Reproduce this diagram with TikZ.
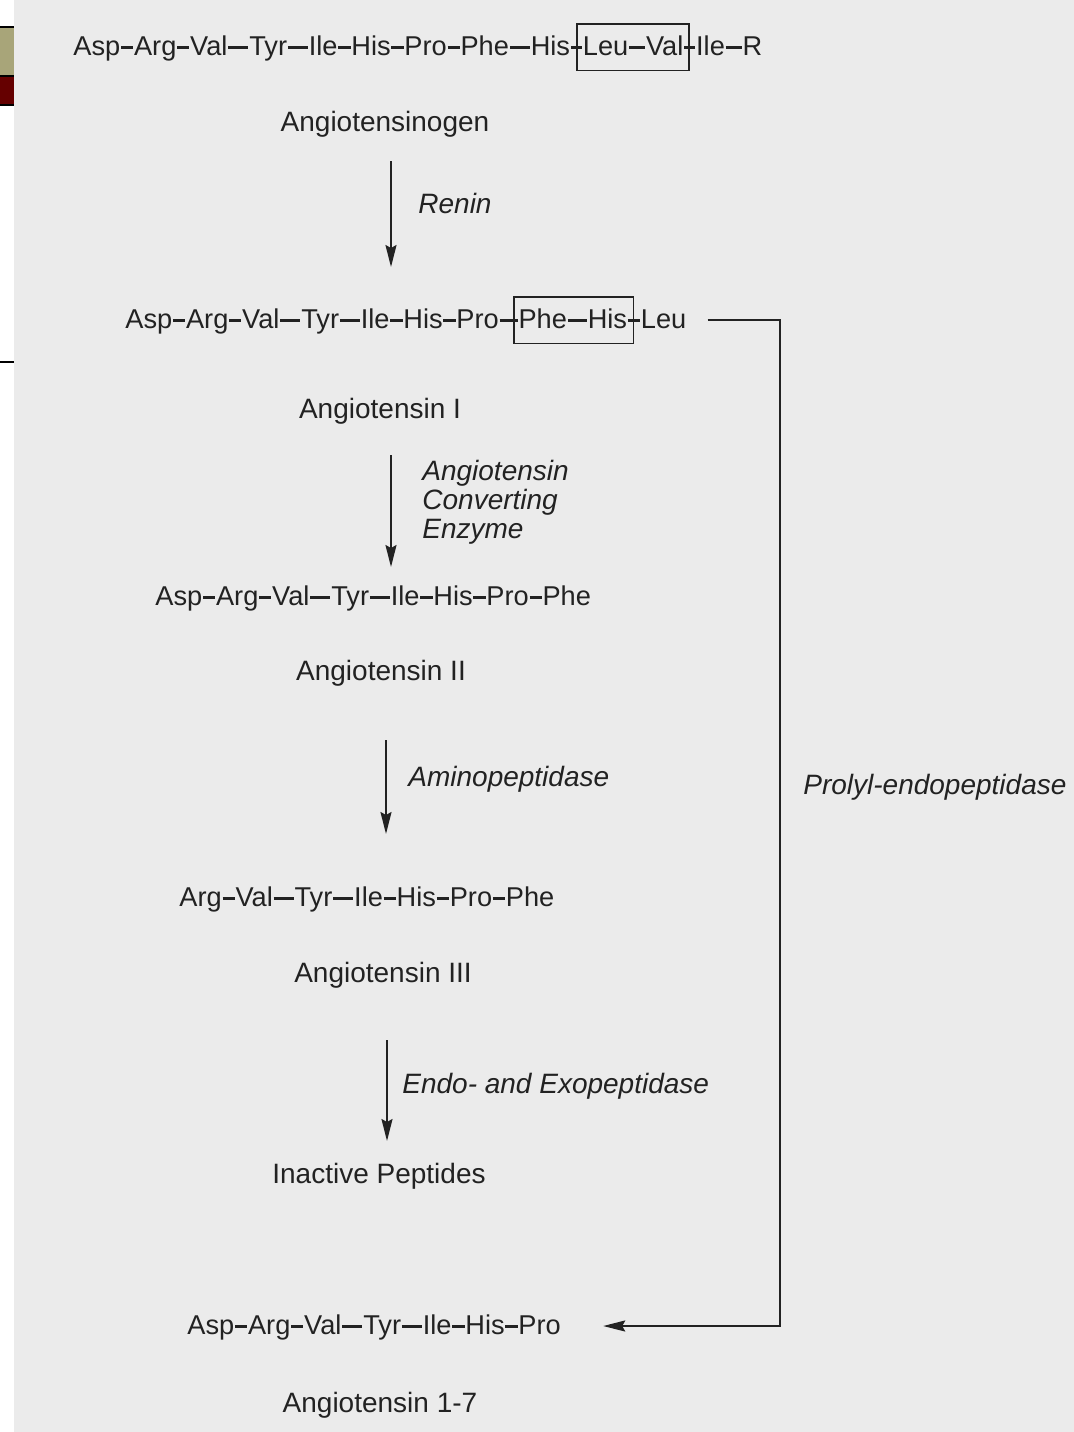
\documentclass[tikz,border=0pt]{standalone}
\usepackage{fontspec}
\setmainfont{Liberation Sans}
\usetikzlibrary{positioning,fit,arrows.meta}
\definecolor{scangray}{HTML}{EBEBEB}
\definecolor{inkgray}{HTML}{222222}
\definecolor{tabolive}{HTML}{A8A579}
\definecolor{tabred}{HTML}{650000}
\tikzset{res/.style={inner sep=0pt,text height=11pt,text depth=2.8pt,font=\fontsize{13.6}{16}\selectfont,text=inkgray}}
\tikzset{bond/.style={line width=1.5pt,draw=inkgray,shorten <=0.2pt,shorten >=0.2pt}}
\tikzset{cutbox/.style={draw=inkgray,line width=0.9pt,inner xsep=3pt,inner ysep=4.6pt}}
\tikzset{molname/.style={inner sep=0pt,font=\fontsize{14}{16}\selectfont,text=inkgray}}
\tikzset{enzyme/.style={inner sep=0pt,anchor=west,align=left,font=\fontsize{14}{14.5}\selectfont\itshape,text=inkgray}}
\tikzset{cleave/.style={line width=1pt,draw=inkgray,-{Stealth[length=11pt,width=5.5pt,inset=1.5pt]}}}

\begin{document}
\begin{tikzpicture}[x=0.5pt,y=-0.5pt]
	\useasboundingbox (0,0) rectangle (1074,1432);
	\fill[white] (0,0) rectangle (14,1432);
	\fill[scangray] (14,0) rectangle (1074,1432);
	\fill[tabolive] (0,28) rectangle (14,75);
	\fill[tabred] (0,76) rectangle (14,105);
	\foreach \y in {27,75.5,105,362}{
		\draw[line width=1pt] (0,\y) -- (14,\y);
	}

	% angiotensinogen
	\node[res,anchor=west] (p1-1) at (73,47) {Asp};
	\foreach \r/\g [count=\k from 2] in {Arg/6.5pt,Val/6.5pt,Tyr/10.5pt,Ile/10.5pt,His/6.5pt,Pro/6.5pt,Phe/6.5pt,His/10.5pt,Leu/6pt,Val/8.5pt,Ile/6pt,R/8.5pt}{
		\pgfmathtruncatemacro{\j}{\k-1}
		\node[res,right=\g of p1-\j] (p1-\k) {\r};
		\draw[bond] (p1-\j) -- (p1-\k);
	}
	\node[cutbox,inner xsep=2.75pt,fit=(p1-10)(p1-11)] (box1) {};

	% angiotensin I
	\node[res,anchor=west] (p2-1) at (125,320) {Asp};
	\foreach \r/\g [count=\k from 2] in {Arg/6.5pt,Val/6.5pt,Tyr/10.5pt,Ile/10.5pt,His/6.5pt,Pro/6.5pt,Phe/9.5pt,His/10pt,Leu/6.5pt}{
		\pgfmathtruncatemacro{\j}{\k-1}
		\node[res,right=\g of p2-\j] (p2-\k) {\r};
		\draw[bond] (p2-\j) -- (p2-\k);
	}
	\node[cutbox,fit={([xshift=1pt]p2-8.west) (p2-9)}] (box2) {};

	% angiotensin II
	\node[res,anchor=west] (p3-1) at (155,597) {Asp};
	\foreach \r/\g [count=\k from 2] in {Arg/6.5pt,Val/6.5pt,Tyr/10.5pt,Ile/10.5pt,His/6.5pt,Pro/6.5pt,Phe/6.5pt}{
		\pgfmathtruncatemacro{\j}{\k-1}
		\node[res,right=\g of p3-\j] (p3-\k) {\r};
		\draw[bond] (p3-\j) -- (p3-\k);
	}

	% angiotensin III
	\node[res,anchor=west] (p4-1) at (179,898) {Arg};
	\foreach \r/\g [count=\k from 2] in {Val/6.5pt,Tyr/10.5pt,Ile/10.5pt,His/6.5pt,Pro/6.5pt,Phe/6.5pt}{
		\pgfmathtruncatemacro{\j}{\k-1}
		\node[res,right=\g of p4-\j] (p4-\k) {\r};
		\draw[bond] (p4-\j) -- (p4-\k);
	}

	% angiotensin 1-7
	\node[res,anchor=west] (p5-1) at (187,1326) {Asp};
	\foreach \r/\g [count=\k from 2] in {Arg/6.5pt,Val/6.5pt,Tyr/10.5pt,Ile/10.5pt,His/6.5pt,Pro/6.5pt}{
		\pgfmathtruncatemacro{\j}{\k-1}
		\node[res,right=\g of p5-\j] (p5-\k) {\r};
		\draw[bond] (p5-\j) -- (p5-\k);
	}

	\node[molname] (n1) at (385,124) {Angiotensinogen};
	\node[molname] (n2) at (380,411) {Angiotensin I};
	\node[molname] (n3) at (381,673) {Angiotensin II};
	\node[molname] (n4) at (383,975) {Angiotensin III};
	\node[molname] (n5) at (379,1176) {Inactive Peptides};
	\node[molname] (n6) at (380,1405) {Angiotensin 1-7};

	\foreach \i/\x/\ya/\yb in {1/391/161/267,2/391/455/567,3/386/740/834,4/387/1040/1141}{
		\coordinate (c\i-top) at (\x,\ya);
		\coordinate (c\i-tip) at (\x,\yb);
		\draw[cleave] (c\i-top) -- (c\i-tip);
	}
	\node[enzyme] (renin) at (418,203) {Renin};
	\node[enzyme] (ace) at (422,502) {Angiotensin\\Converting\\Enzyme};
	\node[enzyme] (amino) at (408,779) {Aminopeptidase};
	\node[enzyme] (endoexo) at (402,1086) {Endo- and Exopeptidase};
	\node[enzyme] (prolyl) at (803,787) {Prolyl-endopeptidase};

	\coordinate (bend) at (780,700);
	\draw[cleave] ([xshift=10.5pt]p2-10.east) -| (bend) |- ([xshift=21pt]p5-7.east);
\end{tikzpicture}
\end{document}
